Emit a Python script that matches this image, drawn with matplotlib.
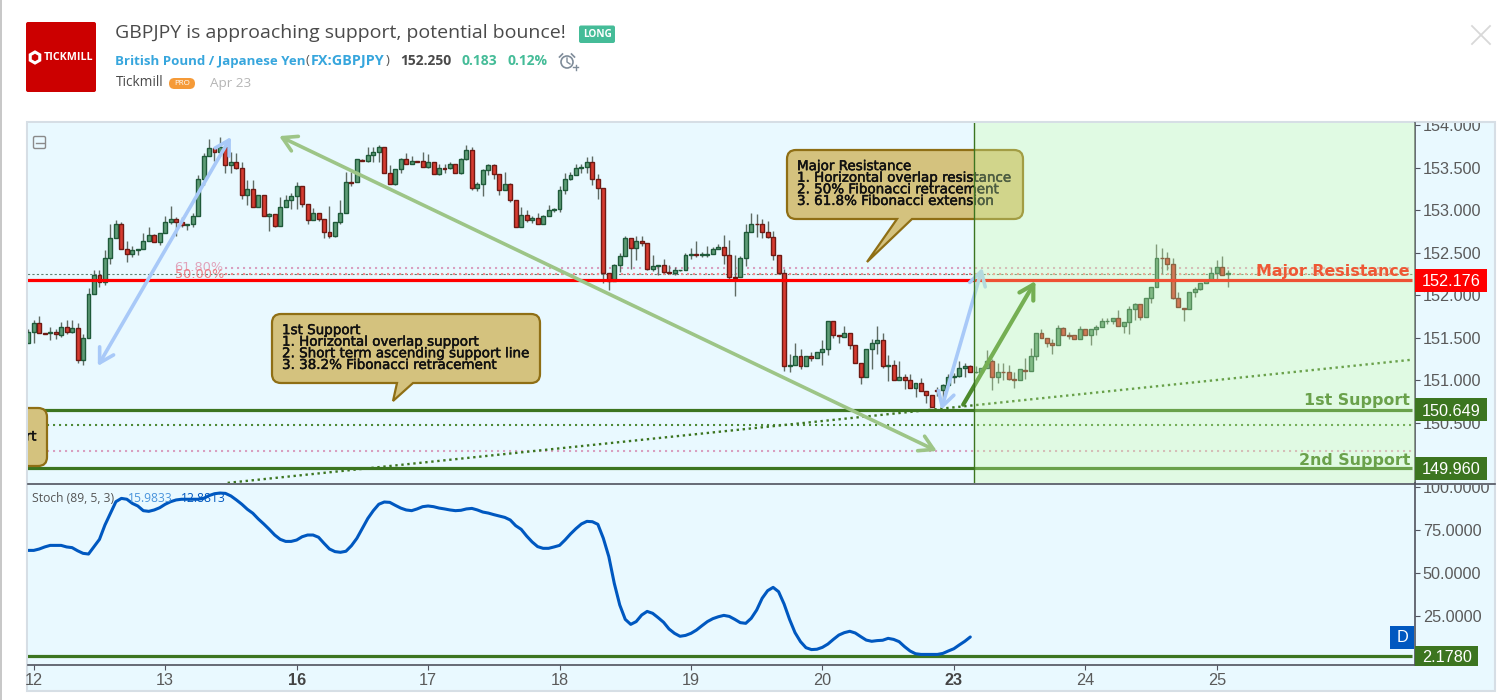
import matplotlib
matplotlib.use('Agg')
import matplotlib.pyplot as plt
import matplotlib.patheffects as pe
import numpy as np
from matplotlib.lines import Line2D
from matplotlib.patches import FancyBboxPatch, PathPatch, Rectangle, RegularPolygon
from matplotlib.path import Path
from matplotlib.transforms import Affine2D, Bbox

# GBPJPY hourly candles
opens = [
    151.44, 151.56, 151.67, 151.55, 151.55, 151.56, 151.53, 151.62, 151.56, 151.61,
    151.23, 151.49, 152.01, 152.23, 152.15, 152.43, 152.67, 152.84, 152.54, 152.48,
    152.53, 152.54, 152.63, 152.71, 152.62, 152.73, 152.86, 152.90, 152.86, 152.82,
    152.83, 152.93, 153.36, 153.63, 153.73, 153.68, 153.74, 153.53, 153.56, 153.49,
    153.18, 153.25, 153.03, 153.18, 152.93, 152.95, 152.81, 153.03, 153.12, 153.17,
    153.28, 153.07, 152.88, 152.97, 152.89, 152.74, 152.69, 152.86, 152.97, 153.33,
    153.33, 153.59, 153.58, 153.65, 153.68, 153.74, 153.44, 153.31, 153.48, 153.60,
    153.54, 153.58, 153.58, 153.51, 153.57, 153.42, 153.49, 153.49, 153.54, 153.43,
    153.60, 153.71, 153.26, 153.31, 153.47, 153.53, 153.42, 153.24, 153.31, 153.12,
    152.80, 152.94, 152.88, 152.91, 152.83, 152.93, 153.00, 153.01, 153.24, 153.37,
    153.41, 153.50, 153.51, 153.57, 153.36, 153.26, 152.26, 152.17, 152.35, 152.46,
    152.67, 152.55, 152.64, 152.61, 152.31, 152.34, 152.35, 152.27, 152.26, 152.29,
    152.30, 152.47, 152.48, 152.47, 152.47, 152.48, 152.54, 152.57, 152.47, 152.21,
    152.21, 152.44, 152.74, 152.84, 152.84, 152.74, 152.68, 152.47, 152.26, 151.16,
    151.18, 151.28, 151.17, 151.28, 151.26, 151.33, 151.37, 151.69, 151.53, 151.51,
    151.55, 151.41, 151.20, 151.03, 151.37, 151.43, 151.47, 151.16, 151.18, 151.00,
    151.03, 151.00, 150.91, 150.96, 150.87, 150.82, 150.88, 150.88, 150.94, 151.04,
    151.05, 151.14, 151.17, 151.09, 151.10, 151.14, 151.22, 151.03, 151.10, 151.10,
    151.01, 151.00, 151.12, 151.11, 151.28, 151.55, 151.50, 151.43, 151.41, 151.61,
    151.53, 151.53, 151.48, 151.60, 151.53, 151.60, 151.62, 151.69, 151.70, 151.73,
    151.63, 151.68, 151.84, 151.89, 151.74, 151.96, 152.10, 152.44, 152.44, 152.37,
    151.96, 151.85, 151.84, 152.04, 152.07, 152.14, 152.18, 152.26, 152.33, 152.25,
]
closes = [
    151.56, 151.67, 151.55, 151.54, 151.56, 151.54, 151.62, 151.56, 151.61, 151.23,
    151.49, 152.01, 152.23, 152.15, 152.43, 152.67, 152.84, 152.54, 152.48, 152.53,
    152.54, 152.63, 152.71, 152.62, 152.73, 152.86, 152.90, 152.86, 152.82, 152.83,
    152.93, 153.36, 153.63, 153.73, 153.68, 153.74, 153.53, 153.56, 153.49, 153.18,
    153.25, 153.03, 153.18, 152.93, 152.95, 152.81, 153.03, 153.12, 153.17, 153.28,
    153.07, 152.88, 152.97, 152.89, 152.74, 152.69, 152.86, 152.97, 153.33, 153.32,
    153.60, 153.58, 153.65, 153.68, 153.74, 153.44, 153.31, 153.48, 153.60, 153.54,
    153.58, 153.57, 153.51, 153.57, 153.42, 153.49, 153.48, 153.54, 153.43, 153.60,
    153.71, 153.26, 153.31, 153.47, 153.53, 153.42, 153.24, 153.31, 153.12, 152.80,
    152.94, 152.88, 152.91, 152.83, 152.93, 153.00, 153.01, 153.24, 153.37, 153.41,
    153.50, 153.51, 153.57, 153.36, 153.26, 152.26, 152.17, 152.35, 152.46, 152.67,
    152.55, 152.64, 152.61, 152.31, 152.34, 152.35, 152.27, 152.26, 152.29, 152.30,
    152.47, 152.48, 152.47, 152.48, 152.48, 152.54, 152.57, 152.47, 152.21, 152.20,
    152.44, 152.74, 152.83, 152.83, 152.74, 152.68, 152.47, 152.26, 151.16, 151.18,
    151.28, 151.17, 151.28, 151.26, 151.33, 151.37, 151.69, 151.53, 151.52, 151.55,
    151.41, 151.20, 151.03, 151.37, 151.43, 151.47, 151.16, 151.18, 151.00, 151.03,
    151.00, 150.91, 150.96, 150.87, 150.82, 150.68, 150.87, 150.94, 151.04, 151.05,
    151.14, 151.17, 151.10, 151.10, 151.14, 151.22, 151.03, 151.10, 151.09, 151.01,
    151.00, 151.13, 151.11, 151.28, 151.55, 151.50, 151.43, 151.41, 151.61, 151.53,
    151.52, 151.48, 151.60, 151.53, 151.60, 151.62, 151.70, 151.70, 151.73, 151.63,
    151.68, 151.84, 151.89, 151.74, 151.96, 152.10, 152.44, 152.43, 152.37, 151.96,
    151.86, 151.84, 152.04, 152.07, 152.14, 152.18, 152.26, 152.33, 152.24, 152.26,
]
highs = [
    151.60, 151.71, 151.75, 151.55, 151.62, 151.60, 151.68, 151.71, 151.71, 151.67,
    151.54, 152.08, 152.30, 152.29, 152.53, 152.84, 152.88, 152.86, 152.63, 152.58,
    152.54, 152.73, 152.80, 152.72, 152.73, 152.93, 153.05, 152.92, 152.92, 152.83,
    152.96, 153.41, 153.67, 153.84, 153.73, 153.86, 153.74, 153.68, 153.67, 153.56,
    153.35, 153.35, 153.18, 153.18, 152.96, 152.95, 153.15, 153.18, 153.20, 153.33,
    153.28, 153.07, 153.02, 152.97, 152.89, 153.05, 152.86, 153.12, 153.45, 153.45,
    153.60, 153.60, 153.74, 153.74, 153.77, 153.74, 153.53, 153.48, 153.61, 153.67,
    153.63, 153.58, 153.68, 153.66, 153.57, 153.54, 153.54, 153.56, 153.54, 153.61,
    153.76, 153.74, 153.33, 153.48, 153.54, 153.54, 153.42, 153.45, 153.32, 153.12,
    153.03, 153.00, 152.93, 152.97, 152.94, 153.06, 153.02, 153.28, 153.44, 153.45,
    153.54, 153.54, 153.62, 153.64, 153.42, 153.26, 152.26, 152.37, 152.49, 152.69,
    152.67, 152.69, 152.69, 152.61, 152.47, 152.35, 152.42, 152.35, 152.33, 152.30,
    152.49, 152.55, 152.63, 152.51, 152.58, 152.57, 152.60, 152.71, 152.65, 152.47,
    152.46, 152.83, 152.96, 152.95, 152.89, 152.87, 152.75, 152.47, 152.31, 151.31,
    151.43, 151.37, 151.28, 151.33, 151.33, 151.47, 151.69, 151.69, 151.53, 151.63,
    151.55, 151.41, 151.20, 151.37, 151.48, 151.63, 151.55, 151.29, 151.24, 151.22,
    151.07, 151.07, 150.96, 151.02, 150.87, 150.82, 150.92, 150.95, 151.07, 151.08,
    151.22, 151.20, 151.18, 151.17, 151.14, 151.35, 151.25, 151.20, 151.20, 151.18,
    151.09, 151.13, 151.26, 151.38, 151.55, 151.60, 151.50, 151.48, 151.65, 151.62,
    151.56, 151.53, 151.63, 151.60, 151.60, 151.65, 151.73, 151.73, 151.73, 151.82,
    151.68, 151.87, 151.91, 151.89, 151.96, 152.10, 152.60, 152.55, 152.51, 152.44,
    152.04, 151.85, 152.04, 152.10, 152.14, 152.18, 152.33, 152.41, 152.46, 152.29,
]
lows = [
    151.44, 151.44, 151.55, 151.54, 151.47, 151.48, 151.51, 151.54, 151.55, 151.20,
    151.18, 151.49, 152.01, 152.10, 152.12, 152.37, 152.67, 152.54, 152.39, 152.45,
    152.47, 152.54, 152.63, 152.62, 152.59, 152.73, 152.84, 152.70, 152.80, 152.76,
    152.80, 152.93, 153.29, 153.63, 153.58, 153.63, 153.44, 153.44, 153.48, 153.13,
    153.06, 153.03, 153.03, 152.93, 152.75, 152.80, 152.81, 153.03, 153.01, 153.01,
    153.03, 152.84, 152.88, 152.87, 152.67, 152.67, 152.68, 152.84, 152.96, 153.28,
    153.33, 153.58, 153.56, 153.56, 153.56, 153.43, 153.31, 153.30, 153.43, 153.54,
    153.54, 153.56, 153.51, 153.50, 153.42, 153.41, 153.43, 153.48, 153.43, 153.42,
    153.59, 153.24, 153.22, 153.16, 153.41, 153.37, 153.18, 153.24, 153.10, 152.80,
    152.80, 152.86, 152.85, 152.83, 152.83, 152.93, 152.98, 152.98, 153.19, 153.35,
    153.41, 153.43, 153.43, 153.30, 153.13, 152.14, 152.06, 152.17, 152.27, 152.46,
    152.31, 152.41, 152.58, 152.30, 152.28, 152.24, 152.26, 152.26, 152.24, 152.28,
    152.30, 152.42, 152.45, 152.45, 152.45, 152.48, 152.54, 152.37, 152.17, 151.99,
    152.21, 152.34, 152.74, 152.68, 152.67, 152.67, 152.41, 152.26, 151.11, 151.09,
    151.18, 151.13, 151.17, 151.22, 151.26, 151.18, 151.29, 151.50, 151.44, 151.51,
    151.37, 151.20, 150.95, 151.03, 151.13, 151.31, 151.14, 150.99, 151.00, 151.00,
    150.89, 150.91, 150.80, 150.87, 150.73, 150.68, 150.81, 150.73, 150.94, 150.97,
    151.04, 151.04, 151.10, 151.08, 151.10, 151.14, 150.88, 150.96, 151.00, 151.00,
    150.91, 151.00, 151.01, 151.11, 151.24, 151.50, 151.39, 151.31, 151.41, 151.53,
    151.48, 151.48, 151.48, 151.53, 151.41, 151.53, 151.62, 151.66, 151.66, 151.63,
    151.55, 151.54, 151.71, 151.71, 151.74, 151.91, 152.10, 152.25, 152.29, 151.95,
    151.86, 151.69, 151.84, 151.98, 152.06, 152.14, 152.18, 152.18, 152.24, 152.10,
]
stoch = [
    63.2, 63.2, 64.0, 65.2, 66.1, 66.1, 66.1, 65.2, 64.8, 63.0,
    61.5, 61.1, 65.4, 69.6, 77.9, 84.7, 91.4, 93.3, 92.8, 90.4,
    88.9, 86.2, 85.8, 86.6, 87.9, 89.9, 91.4, 92.4, 92.8, 92.8,
    92.8, 92.8, 93.3, 94.9, 96.0, 96.4, 96.2, 94.7, 92.4, 89.9,
    87.0, 84.7, 81.4, 78.5, 75.4, 72.1, 69.6, 68.4, 68.4, 69.2,
    71.1, 72.1, 72.1, 70.8, 67.3, 64.0, 62.5, 62.1, 62.7, 65.9,
    70.2, 76.0, 81.7, 86.2, 89.9, 91.2, 91.0, 89.3, 87.7, 86.6,
    86.2, 87.2, 88.5, 88.9, 88.5, 87.7, 87.2, 86.6, 86.2, 86.4,
    87.2, 87.5, 86.6, 85.4, 84.8, 83.9, 83.1, 82.3, 80.8, 77.5,
    75.4, 71.5, 68.1, 65.4, 64.4, 64.4, 65.2, 66.1, 69.2, 72.7,
    75.8, 78.5, 80.0, 79.8, 78.3, 70.2, 59.6, 44.1, 31.6, 23.3,
    20.4, 22.0, 25.8, 27.9, 26.8, 24.3, 21.6, 17.7, 15.2, 13.5,
    14.0, 15.2, 17.1, 19.6, 22.0, 23.7, 24.8, 25.6, 25.0, 23.3,
    21.4, 21.0, 23.9, 28.7, 35.5, 39.9, 41.8, 39.3, 32.2, 23.3,
    15.6, 10.4, 6.9, 5.8, 6.0, 7.1, 9.0, 11.7, 14.2, 15.6,
    16.4, 15.4, 13.3, 11.3, 10.6, 11.0, 11.2, 12.3, 11.7, 10.4,
    7.5, 5.0, 3.4, 3.0, 3.0, 3.0, 3.0, 3.6, 5.0, 6.3,
    8.5, 10.6, 13.1,
]

day_bars = [1, 25, 49, 73, 97, 121, 145, 169, 193, 217]
day_labels = ['12', '13', '16', '17', '18', '19', '20', '23', '24', '25']
bold_days = ['16', '23']
price_ticks = [150.5, 151.0, 151.5, 152.0, 152.5, 153.0, 153.5, 154.0]
stoch_ticks = [25, 50, 75, 100]

major_resistance = 152.176
first_support = 150.649
second_support = 149.96
stoch_level = 2.178
fib_618 = 152.32
fib_500 = 152.25
last_price = 152.25
green_dotted = 150.47
pink_dotted = 150.17

# trend line and arrows, (bar, price) at both ends
trend_line = [(36.4, 149.79), (252.8, 151.24)]
blue_arrow_1 = [(12.7, 151.165), (37.0, 153.86)]
blue_arrow_2 = [(166.7, 150.65), (174.2, 152.32)]
green_arrow = [(45.8, 153.87), (165.9, 150.165)]
dark_arrow = [(170.7, 150.71), (183.9, 152.165)]
zone_start = 172.6

W, H = 1511, 700
fig = plt.figure(figsize=(W / 100, H / 100), dpi=100, facecolor='white')
# reference picture pixels -> figure
px = Affine2D().scale(1 / W, -1 / H).translate(0, 1) + fig.transFigure


def axes_rect(x0, y0, x1, y1):
    return [x0 / W, 1 - y1 / H, (x1 - x0) / W, (y1 - y0) / H]


BG = '#E9F9FF'
AXIS = '#50535E'
TICK = '#5A5A5A'
DARK_GREEN = '#3C7520'
RED = '#FF0000'
SANS = 'Liberation Sans'
UI = 'Open Sans'
DOTS = (0, (1, 1.88))

# page furniture
fig.add_artist(Rectangle((0, 0), 1.5, H, transform=px, fc='#C8C8C8', ec='none', zorder=-2))
fig.add_artist(Rectangle((27, 122), 1468, 569, transform=px, fc=BG, ec='#D6DEE5', lw=1.5, zorder=-1))

ax = fig.add_axes(axes_rect(28, 123, 1415, 483.3), facecolor=BG)
ax2 = fig.add_axes(axes_rect(28, 483.3, 1415, 665), facecolor=BG)

x = np.arange(len(opens))
o = np.array(opens)
c = np.array(closes)
up = c >= o

# candles
ax.vlines(x, lows, highs, color='#5F6B64', lw=1.0, zorder=3)
ax.bar(x[up], (c - o)[up], bottom=o[up], width=0.72, color='#5E9C76', edgecolor='#1F5A3A', lw=1.0, zorder=4)
ax.bar(x[~up], (c - o)[~up], bottom=o[~up], width=0.72, color='#D63B30', edgecolor='#6E1A14', lw=1.0, zorder=4)

end_bar = 252.7
# levels
ax.hlines(major_resistance, -1, end_bar, color=RED, lw=2.3, zorder=5)
ax.hlines([first_support, second_support], -1, end_bar, color=DARK_GREEN, lw=2.3, zorder=5)
ax.hlines(last_price, -1, end_bar, color='#5F7F70', lw=0.8, linestyle=(0, (2, 2)), zorder=2)
ax.hlines(fib_618, 36, end_bar, color='#D9A0C0', lw=1.5, linestyle=DOTS, zorder=2)
ax.hlines(fib_500, 36, end_bar, color='#F08A90', lw=1.5, linestyle=DOTS, zorder=2)
ax.hlines(green_dotted, -1, end_bar, color='#4E8A38', lw=1.5, linestyle=DOTS, zorder=2)
ax.hlines(pink_dotted, -1, end_bar, color='#D9A0C0', lw=1.5, linestyle=DOTS, zorder=2)
ax.plot(*zip(*trend_line), color='#3C7520', lw=1.7, linestyle=(0, (1, 1.55)), zorder=3)

ax.text(26.7, fib_618, '61.80%', color='#E0A4BC', fontsize=9.3, ha='left', va='center', zorder=6)
ax.text(26.7, fib_500 - 0.01, '50.00%', color='#EE7F85', fontsize=9.3, ha='left', va='center', zorder=6)


def arrow(ends, color, style='<->', lw=2.6):
    ax.annotate('', xy=ends[1], xytext=ends[0],
                arrowprops=dict(arrowstyle=f'{style},head_length=1.0,head_width=0.58',
                                color=color, lw=lw, shrinkA=0, shrinkB=0), zorder=6)


arrow(blue_arrow_1, '#A8C9F8')
arrow(blue_arrow_2, '#A8C9F8')
arrow(green_arrow, '#9DC587')
arrow(dark_arrow, '#4C8A2C', style='->', lw=3.0)


def callout(x0, y0, x1, y1, base0, base1, tip, r=9):
    verts = [(x0 + r, y0), (x1 - r, y0), (x1, y0), (x1, y0 + r), (x1, y1 - r), (x1, y1), (x1 - r, y1),
             (base1, y1), tip, (base0, y1), (x0 + r, y1), (x0, y1), (x0, y1 - r), (x0, y0 + r), (x0, y0),
             (x0 + r, y0), (x0 + r, y0)]
    codes = [Path.MOVETO, Path.LINETO, Path.CURVE3, Path.CURVE3, Path.LINETO, Path.CURVE3, Path.CURVE3,
             Path.LINETO, Path.LINETO, Path.LINETO, Path.LINETO, Path.CURVE3, Path.CURVE3, Path.LINETO,
             Path.CURVE3, Path.CURVE3, Path.CLOSEPOLY]
    ax.add_patch(PathPatch(Path(verts, codes), transform=px, fc='#D4C27E', ec='#8F6F15', lw=1.6, zorder=7))


def note(xp, yp, txt, ha='left'):
    ax.text(xp, yp, txt, transform=px, fontsize=9.7, color='#111111', ha=ha, va='center',
            linespacing=0.86, zorder=7.5, clip_on=True,
            path_effects=[pe.withStroke(linewidth=0.35, foreground='#111111')])


callout(787, 150, 1023, 219, 897, 912, (867, 262))
note(797, 184, 'Major Resistance\n1. Horizontal overlap resistance\n2. 50% Fibonacci retracement\n3. 61.8% Fibonacci extension')
callout(272, 314, 540, 383, 397, 413, (393, 401))
note(282, 348, '1st Support\n1. Horizontal overlap support\n2. Short term ascending support line\n3. 38.2% Fibonacci retracement')
callout(-120, 408, 47, 466, -20, -10, (-15, 466))
note(37, 437, '2nd Support', ha='right')

ax.text(1410, 271.5, 'Major Resistance', transform=px, fontsize=11.4, fontweight='bold', color='#FF0A00',
        ha='right', va='center', zorder=7)
ax.text(1410, 401, '1st Support', transform=px, fontsize=11.4, fontweight='bold', color=DARK_GREEN,
        ha='right', va='center', zorder=7)
ax.text(1410, 460, '2nd Support', transform=px, fontsize=11.4, fontweight='bold', color=DARK_GREEN,
        ha='right', va='center', zorder=7)

# highlighted zone sits over everything up to here
ax.axvspan(zone_start, end_bar + 2, facecolor='#CDFFA8', alpha=0.32, edgecolor='none', zorder=8)
ax.vlines(zone_start, 149, 155, color=DARK_GREEN, lw=1.0, zorder=9)

ax.add_patch(FancyBboxPatch((33.5, 136.5), 12, 12, boxstyle='round,pad=0,rounding_size=1.5', transform=px,
                            fc='none', ec='#8A8A8A', lw=1.0, zorder=9))
ax.add_line(Line2D([35.5, 43.5], [142.5, 142.5], transform=px, color='#8A8A8A', lw=1.0, zorder=9))

ax.set_xlim(-0.05, 253.2)
ax.set_ylim(149.785, 154.024)
ax.yaxis.tick_right()
ax.set_yticks(price_ticks)
ax.set_yticklabels([f'{v:.3f}' for v in price_ticks], fontsize=11.7, color=TICK, fontname=SANS)
ax.set_xticks([])
ax.tick_params(axis='y', length=3.6, width=0.8, color=AXIS, pad=2)
for s in ['top', 'left', 'bottom']:
    ax.spines[s].set_visible(False)
ax.spines['right'].set_color(AXIS)
ax.spines['right'].set_linewidth(1.2)
for lab in ax.get_yticklabels():
    lab.set_clip_on(True)
    lab.set_clip_box(Bbox.from_extents(1416, 700 - 483, 1495, 700 - 123))

# stochastic panel
ax2.plot(np.arange(len(stoch)), stoch, color='#0058C0', lw=2.2, zorder=4, solid_capstyle='round')
ax2.hlines(stoch_level, -1, end_bar, color=DARK_GREEN, lw=2.3, zorder=3)
ax2.set_xlim(-0.05, 253.2)
ax2.set_ylim(-3.12, 102.03)
ax2.yaxis.tick_right()
ax2.set_yticks(stoch_ticks)
ax2.set_yticklabels([f'{v:.4f}' for v in stoch_ticks], fontsize=11.7, color=TICK, fontname=SANS)
ax2.set_xticks(day_bars)
ax2.set_xticklabels(day_labels, fontsize=11.7, color=TICK, fontname=SANS)
for lab in ax2.get_xticklabels():
    if lab.get_text() in bold_days:
        lab.set_fontweight('bold')
        lab.set_color('#444444')
ax2.tick_params(axis='both', length=3.6, width=0.8, color=AXIS, pad=2.5)
ax2.tick_params(axis='y', pad=2)
ax2.spines['left'].set_visible(False)
ax2.spines['top'].set_visible(False)
for s in ['right', 'bottom']:
    ax2.spines[s].set_color(AXIS)
    ax2.spines[s].set_linewidth(1.2)
for lab in ax2.get_yticklabels():
    lab.set_clip_on(True)
    lab.set_clip_box(Bbox.from_extents(1416, 0, 1495, 700 - 484.5))
fig.add_artist(Line2D([28, 1495], [483.5, 483.5], transform=px, color=AXIS, lw=1.2, zorder=5))

fig.text(32, 499, 'Stoch (89, 5, 3)', transform=px, fontsize=8.7, color='#555555', fontname=UI, va='center', zorder=6)
fig.text(128, 499, '15.9833', transform=px, fontsize=8.7, color='#4A94DC', fontname=UI, va='center', zorder=6)
fig.text(181, 499, '12.8813', transform=px, fontsize=8.7, color='#0058C0', fontname=UI, va='center', zorder=6)


# value tags on the scales
def tag(axis, value, label, color, width, height):
    axis.add_patch(Rectangle((1.0, value - height / 2), width / 1387, height,
                             transform=axis.get_yaxis_transform(), fc=color, ec='none', clip_on=False, zorder=10))
    axis.text(1.0 + 7 / 1387, value, label, transform=axis.get_yaxis_transform(), fontsize=11.7, color='white',
              fontname=SANS, va='center_baseline', ha='left', clip_on=False, zorder=11)


tag(ax, major_resistance, f'{major_resistance:.3f}', RED, 72, 0.27)
tag(ax, first_support, f'{first_support:.3f}', DARK_GREEN, 72, 0.27)
tag(ax, second_support, f'{second_support:.3f}', DARK_GREEN, 72, 0.27)
tag(ax2, stoch_level, f'{stoch_level:.4f}', DARK_GREEN, 63, 11.6)

fig.add_artist(Rectangle((1390, 626), 24, 23, transform=px, fc='#0058C0', ec='none', zorder=6))
fig.text(1402, 637.5, 'D', transform=px, fontsize=11.7, color='white', fontname=SANS, ha='center', va='center', zorder=7)

# header
fig.add_artist(FancyBboxPatch((26, 22), 70, 70, boxstyle='round,pad=0,rounding_size=2', transform=px,
                              fc='#CC0000', ec='none'))
fig.add_artist(RegularPolygon((35, 57.5), 6, radius=5.5, transform=px, fc='none', ec='white', lw=2.2))
fig.text(43.5, 57.5, 'TICKMILL', transform=px, fontsize=7.7, fontweight='bold', color='white', fontname=UI, va='center')

fig.text(115, 33, 'GBPJPY is approaching support, potential bounce!', transform=px, fontsize=14.0, color='#4A4A4A',
         fontname=UI, va='center')
fig.add_artist(FancyBboxPatch((579, 25.5), 36, 17.5, boxstyle='round,pad=0,rounding_size=2', transform=px,
                              fc='#45BC98', ec='none'))
fig.text(597, 34.5, 'LONG', transform=px, fontsize=7.2, color='white', fontweight='bold', fontname=UI, ha='center', va='center')

BLUE = '#37A6DD'
fig.text(115, 61, 'British Pound / Japanese Yen', transform=px, fontsize=9.55, color=BLUE, fontweight='bold', fontname=UI, va='center')
fig.text(306, 61, '(', transform=px, fontsize=9.6, color='#555555', fontname=UI, va='center')
fig.text(311, 61, 'FX:GBPJPY', transform=px, fontsize=10.4, color=BLUE, fontweight='bold', fontname=UI, va='center')
fig.text(386, 61, ')', transform=px, fontsize=9.6, color='#555555', fontname=UI, va='center')
fig.text(400, 61, '152.250', transform=px, fontsize=10, color='#4A4A4A', fontweight='bold', fontname=UI, va='center')
fig.text(462, 61, '0.183', transform=px, fontsize=10, color='#45BC98', fontweight='bold', fontname=UI, va='center')
fig.text(508, 61, '0.12%', transform=px, fontsize=10, color='#45BC98', fontweight='bold', fontname=UI, va='center')

# alarm icon
fig.add_artist(plt.Circle((567, 62), 6, transform=px, fc='none', ec='#7F8C99', lw=1.2))
fig.add_artist(Line2D([567, 567, 570], [58, 62, 64], transform=px, color='#7F8C99', lw=1.0))
fig.add_artist(Line2D([559.5, 562.5], [57, 54], transform=px, color='#7F8C99', lw=1.2))
fig.add_artist(Line2D([571.5, 574.5], [54, 57], transform=px, color='#7F8C99', lw=1.2))
fig.add_artist(Line2D([573, 578], [67, 67], transform=px, color='#7F8C99', lw=1.0))
fig.add_artist(Line2D([575.5, 575.5], [64.5, 69.5], transform=px, color='#7F8C99', lw=1.0))

fig.text(116, 83, 'Tickmill', transform=px, fontsize=9.8, color='#4A4A4A', fontname=UI, va='center')
fig.add_artist(FancyBboxPatch((169, 78), 26, 11, boxstyle='round,pad=0,rounding_size=5.5', transform=px,
                              fc='#F59A38', ec='none'))
fig.text(182, 83.5, 'PRO', transform=px, fontsize=5.8, color='white', fontname=UI, ha='center', va='center')
fig.text(210, 83, 'Apr 23', transform=px, fontsize=9.7, color='#B5B5B5', fontname=UI, va='center')

# close cross
fig.add_artist(Line2D([1472, 1490], [26, 44], transform=px, color='#D8D8D8', lw=1.3))
fig.add_artist(Line2D([1472, 1490], [44, 26], transform=px, color='#D8D8D8', lw=1.3))

fig.savefig('out.png', dpi=100)
